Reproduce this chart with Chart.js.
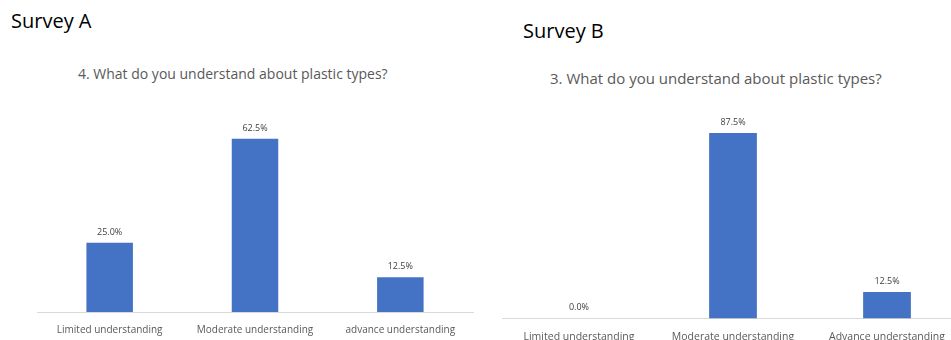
<!DOCTYPE html>
<html>
<head>
<meta charset="utf-8">
<script src="https://cdn.jsdelivr.net/npm/chart.js@4"></script>
<style>
  html, body { margin: 0; padding: 0; background: #fff; }
  body { width: 951px; height: 340px; position: relative; overflow: hidden; font-family: "Open Sans", sans-serif; }
  .survey { position: absolute; font-size: 20px; color: #000; line-height: 1; }
  .question { position: absolute; color: #595959; line-height: 1; white-space: nowrap; }
  .box { position: absolute; top: 0; }
</style>
</head>
<body>
<div class="survey" style="left:11px; top:11px;">Survey A</div>
<div class="survey" style="left:523px; top:21px;">Survey B</div>
<div class="question" style="left:78px; top:67px; font-size:14px;">4. What do you understand about plastic types?</div>
<div class="question" style="left:550px; top:71px; font-size:15px;">3. What do you understand about plastic types?</div>
<div class="box" style="left:0; width:480px; height:340px;"><canvas id="chartA"></canvas></div>
<div class="box" style="left:480px; width:490px; height:347px;"><canvas id="chartB"></canvas></div>
<script>
// --- Data ---
const categoriesA = ['Limited understanding', 'Moderate understanding', 'advance understanding'];
const valuesA = [25.0, 62.5, 12.5];

const categoriesB = ['Limited understanding', 'Moderate understanding', 'Advance understanding'];
const valuesB = [0.0, 87.5, 12.5];

const barColor = '#4472C4';

// Draws the percentage text above each bar
const valueLabels = {
  id: 'valueLabels',
  afterDatasetsDraw(chart) {
    const ctx = chart.ctx;
    const meta = chart.getDatasetMeta(0);
    const data = chart.data.datasets[0].data;
    ctx.save();
    ctx.fillStyle = '#404040';
    ctx.font = '9px "Open Sans", sans-serif';
    ctx.textAlign = 'center';
    ctx.textBaseline = 'bottom';
    meta.data.forEach((bar, i) => {
      ctx.fillText(data[i].toFixed(1) + '%', bar.x, bar.y - 6);
    });
    ctx.restore();
  }
};

function makeChart(id, labels, values, yMax, pad, tickSize, barPct) {
  const ctx = document.getElementById(id).getContext('2d');
  return new Chart(ctx, {
    type: 'bar',
    data: {
      labels: labels,
      datasets: [{
        data: values,
        backgroundColor: barColor,
        borderWidth: 0,
        categoryPercentage: 1,
        barPercentage: barPct
      }]
    },
    options: {
      responsive: true,
      maintainAspectRatio: false,
      animation: false,
      layout: { padding: pad },
      plugins: {
        legend: { display: false },
        tooltip: { enabled: false }
      },
      scales: {
        x: {
          grid: { display: false },
          border: { display: true, color: '#d9d9d9', width: 1 },
          ticks: {
            color: '#595959',
            font: { family: '"Open Sans", sans-serif', size: tickSize },
            padding: 4,
            maxRotation: 0,
            autoSkip: false
          }
        },
        y: {
          display: false,
          min: 0,
          max: yMax
        }
      }
    },
    plugins: [valueLabels]
  });
}

makeChart('chartA', categoriesA, valuesA, 70, { left: 37, right: 7, top: 118, bottom: 0 }, 10, 0.32);
makeChart('chartB', categoriesB, valuesB, 95, { left: 22, right: 6, top: 117, bottom: 0 }, 10.5, 0.31);
</script>
</body>
</html>
